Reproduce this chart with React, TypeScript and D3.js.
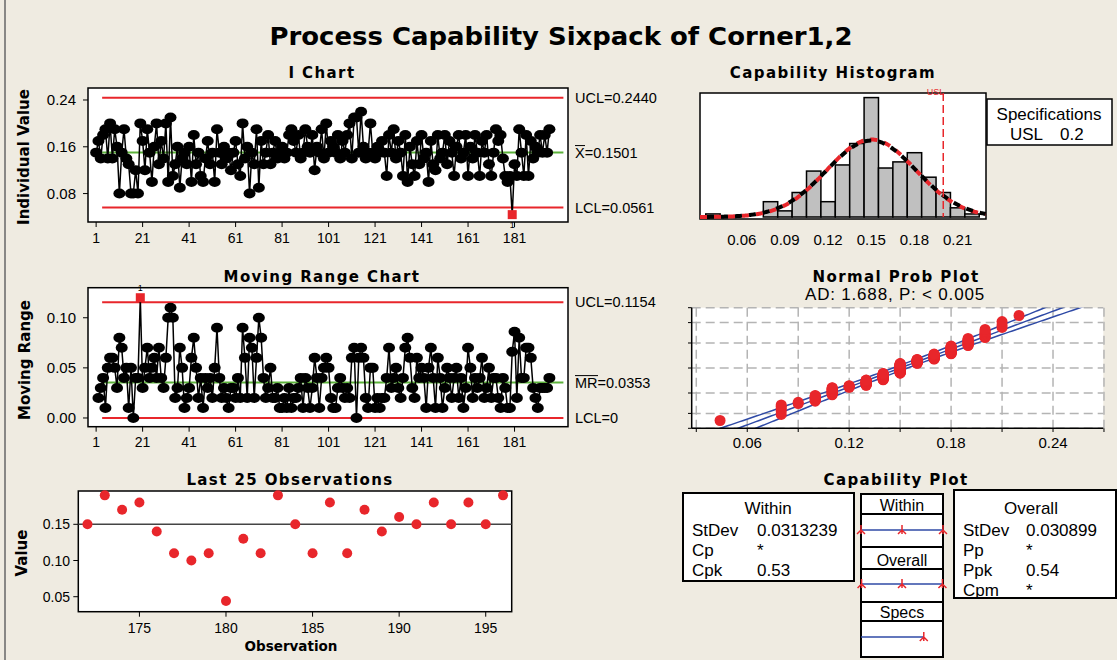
import React from "react";
import * as d3 from "d3";

const BG = "#efebe1";
const RED = "#e8262b";
const GREEN = "#5cb23a";
const BLUE = "#2f4aa6";
const SANS = "'Liberation Sans', Arial, sans-serif";
const BOLD = "'DejaVu Sans', Verdana, sans-serif";

// Corner1,2 individual measurements, observations 1..196
const corner = [
  0.15, 0.17, 0.14, 0.18, 0.19, 0.14, 0.2, 0.14, 0.19, 0.16,
  0.08, 0.15, 0.19, 0.14, 0.13, 0.08, 0.08, 0.12, 0.08, 0.2,
  0.17, 0.12, 0.19, 0.15, 0.1, 0.16, 0.2, 0.13, 0.17, 0.14,
  0.2, 0.1, 0.21, 0.11, 0.13, 0.16, 0.09, 0.14, 0.15, 0.13,
  0.16, 0.1, 0.18, 0.13, 0.15, 0.11, 0.1, 0.14, 0.17, 0.13,
  0.15, 0.1, 0.19, 0.15, 0.13, 0.16, 0.14, 0.15, 0.12, 0.15,
  0.17, 0.13, 0.11, 0.2, 0.14, 0.16, 0.08, 0.15, 0.13, 0.19,
  0.09, 0.17, 0.13, 0.15, 0.18, 0.13, 0.15, 0.17, 0.14, 0.15,
  0.16, 0.14, 0.15, 0.18, 0.19, 0.17, 0.15, 0.18, 0.14, 0.15,
  0.19, 0.16, 0.15, 0.18, 0.12, 0.16, 0.15, 0.19, 0.14, 0.2,
  0.15, 0.17, 0.16, 0.15, 0.18, 0.14, 0.17, 0.15, 0.18, 0.2,
  0.14, 0.21, 0.21, 0.15, 0.22, 0.16, 0.14, 0.15, 0.2, 0.15,
  0.14, 0.16, 0.15, 0.17, 0.15, 0.11, 0.18, 0.15, 0.19, 0.14,
  0.17, 0.15, 0.11, 0.18, 0.1, 0.16, 0.13, 0.11, 0.17, 0.13,
  0.18, 0.14, 0.15, 0.1, 0.17, 0.13, 0.12, 0.18, 0.14, 0.15,
  0.18, 0.13, 0.17, 0.15, 0.11, 0.16, 0.18, 0.14, 0.15, 0.18,
  0.11, 0.16, 0.14, 0.18, 0.15, 0.11, 0.17, 0.15, 0.18, 0.13,
  0.11,
  // last 25 (172..196)
  0.15, 0.19, 0.17, 0.18, 0.14, 0.11, 0.1, 0.11, 0.044, 0.13,
  0.11, 0.19, 0.15, 0.11, 0.18, 0.11, 0.17, 0.14, 0.16, 0.15,
  0.18, 0.15, 0.18, 0.15, 0.19,
];

const iUCL = 0.244, iMean = 0.1501, iLCL = 0.0561;
const mrUCL = 0.1154, mrMean = 0.0353, mrLCL = 0;
const usl = 0.2;
const sdWithin = 0.0313239, sdOverall = 0.030899;

const obsTicks = [1, 21, 41, 61, 81, 101, 121, 141, 161, 181];
const iTicks = [0.08, 0.16, 0.24];
const mrTicks = [0, 0.05, 0.1];
const histTicks = [0.06, 0.09, 0.12, 0.15, 0.18, 0.21];
const probTicks = [0.06, 0.12, 0.18, 0.24];
const probGridX = [0.03, 0.06, 0.09, 0.12, 0.15, 0.18, 0.21, 0.24, 0.27];
const probGridPct = [0.1, 1, 10, 50, 90, 99, 99.9];
const lastTicksX = [175, 180, 185, 190, 195];
const lastTicksY = [0.05, 0.1, 0.15];
const withinRows = [["StDev", "0.0313239"], ["Cp", "*"], ["Cpk", "0.53"]];
const overallRows = [["StDev", "0.030899"], ["Pp", "*"], ["Ppk", "0.54"], ["Cpm", "*"]];

// inverse standard normal cdf (Acklam)
function invNorm(p: number) {
  const a = [-39.69683028665376, 220.9460984245205, -275.9285104469687, 138.357751867269, -30.66479806614716, 2.506628277459239];
  const b = [-54.47609879822406, 161.5858368580409, -155.6989798598866, 66.80131188771972, -13.28068155288572];
  const c = [-0.007784894002430293, -0.3223964580411365, -2.400758277161838, -2.549671010114168, 4.374664141464968, 2.938163982698783];
  const d = [0.007784695709041462, 0.3224671290700398, 2.445134137142996, 3.754408661907416];
  const lo = 0.02425;
  if (p < lo || p > 1 - lo) {
    const q = Math.sqrt(-2 * Math.log(p < lo ? p : 1 - p));
    const z = (((((c[0] * q + c[1]) * q + c[2]) * q + c[3]) * q + c[4]) * q + c[5]) /
      ((((d[0] * q + d[1]) * q + d[2]) * q + d[3]) * q + 1);
    return p < lo ? z : -z;
  }
  const q = p - 0.5, r = q * q;
  return ((((((a[0] * r + a[1]) * r + a[2]) * r + a[3]) * r + a[4]) * r + a[5]) * q) /
    (((((b[0] * r + b[1]) * r + b[2]) * r + b[3]) * r + b[4]) * r + 1);
}

const Title = ({ x, y, children }: any) => (
  <text x={x} y={y} textAnchor="middle" fontFamily={BOLD} fontWeight="bold" fontSize={15} style={{ letterSpacing: "1.4px" }}>
    {children}
  </text>
);

const YLabel = ({ x, y, children }: any) => (
  <text transform={`translate(${x},${y}) rotate(-90)`} textAnchor="middle" dominantBaseline="central"
    fontFamily={BOLD} fontWeight="bold" fontSize={15}>
    {children}
  </text>
);

export default function App() {
  const n = corner.length;
  const pts = corner.map((v, i) => ({ n: i + 1, v }));
  const mr = pts.slice(1).map((p, i) => ({ n: p.n, v: Math.abs(p.v - corner[i]) }));
  const mean = d3.mean(corner)!;

  // I chart + MR chart scales
  const xI = d3.scaleLinear().domain([-2.5, 204]).range([88, 568]);
  const yI = d3.scaleLinear().domain([0.0314, 0.2605]).range([222, 88]);
  const yM = d3.scaleLinear().domain([-0.0087, 0.13]).range([426.7, 287.7]);
  const lineI = d3.line<{ n: number; v: number }>().x(d => xI(d.n)).y(d => yI(d.v));
  const lineM = d3.line<{ n: number; v: number }>().x(d => xI(d.n)).y(d => yM(d.v));
  const x0 = xI(1) + 6, x1 = xI(n) + 14;

  // histogram
  const xH = d3.scaleLinear().domain([0.031, 0.2297]).range([700, 986]);
  const yH = d3.scaleLinear().domain([0, 40.5]).range([217, 93]);
  const bins = d3.bin().domain([0.035, 0.225]).thresholds(d3.range(5, 23).map(k => (k - 0.5) / 100))(corner);
  const gridH = d3.range(0.031, 0.2297, 0.0005);
  const curve = (sd: number) =>
    d3.line<number>().x(x => xH(x)).y(x => yH(n * 0.01 * Math.exp(-0.5 * ((x - mean) / sd) ** 2) / (sd * Math.sqrt(2 * Math.PI))))(gridH)!;

  // normal probability plot
  const xP = d3.scaleLinear().domain([0.0273, 0.2696]).range([691.7, 1103.3]);
  const yP = d3.scaleLinear().domain([-3.09, 3.09]).range([428.3, 307.7]);
  const sorted = [...corner].sort(d3.ascending);
  const probPts = sorted.map((v, i) => ({ v, z: invNorm((i + 1 - 0.3) / (n + 0.4)) }));
  const zs = d3.range(-3.4, 3.41, 0.05);
  const band = (k: number) =>
    d3.line<number>()
      .x(z => xP(mean + sdOverall * z + k * 1.96 * sdOverall * Math.sqrt(1 / n + (z * z) / (2 * (n - 1)))))
      .y(z => yP(z))(zs)!;

  // last 25
  const last = pts.slice(n - 25);
  const xL = d3.scaleLinear().domain([171.47, 196.5]).range([78.3, 511.7]);
  const yL = d3.scaleLinear().domain([0.0293, 0.196]).range([611.7, 491]);

  // capability plot
  const xC = d3.scaleLinear().domain([mean - 3 * sdWithin, mean + 3 * sdWithin]).range([861, 943]);
  const marker = (x: number, y: number) => `M${x},${y - 5}V${y + 4}M${x - 4},${y + 4}L${x},${y}L${x + 4},${y + 4}`;

  const f2 = d3.format(".2f");

  return (
    <svg width={1117} height={660} style={{ position: "absolute", left: 0, top: 0, display: "block" }}>
      <defs>
        <clipPath id="clipH"><rect x={700} y={93} width={286} height={126} /></clipPath>
        <clipPath id="clipP"><rect x={691.7} y={307.7} width={411.6} height={120.6} /></clipPath>
        <clipPath id="clipO"><rect x={954} y={490} width={162} height={108} /></clipPath>
      </defs>
      <rect width={1117} height={660} fill={BG} />
      <line x1={5} x2={5} y1={0} y2={660} stroke="#666" strokeWidth={1.5} />

      <text x={561} y={45} textAnchor="middle" fontFamily={BOLD} fontWeight="bold" fontSize={24}
        textLength={583} lengthAdjust="spacingAndGlyphs">Process Capability Sixpack of Corner1,2</text>

      {/* ---------- I Chart ---------- */}
      <Title x={322} y={78}>I Chart</Title>
      <rect x={88} y={88} width={480} height={134} fill="#fff" stroke="#000" strokeWidth={1.5} />
      <line x1={x0} x2={x1} y1={yI(iUCL)} y2={yI(iUCL)} stroke={RED} strokeWidth={2} />
      <line x1={x0} x2={x1} y1={yI(iLCL)} y2={yI(iLCL)} stroke={RED} strokeWidth={2} />
      <line x1={x0} x2={x1} y1={yI(iMean)} y2={yI(iMean)} stroke={GREEN} strokeWidth={2} />
      <path d={lineI(pts)!} fill="none" stroke="#000" strokeWidth={1.5} />
      {pts.map(p =>
        p.v > iUCL || p.v < iLCL ? (
          <g key={p.n}>
            <rect x={xI(p.n) - 4.5} y={yI(p.v) - 4.5} width={9} height={9} fill={RED} />
            <text x={xI(p.n)} y={yI(p.v) + 13} textAnchor="middle" fontFamily={SANS} fontSize={9}>1</text>
          </g>
        ) : (
          <ellipse key={p.n} cx={xI(p.n)} cy={yI(p.v)} rx={6} ry={5} fill="#000" />
        )
      )}
      {iTicks.map(t => (
        <g key={t}>
          <line x1={83} x2={88} y1={yI(t)} y2={yI(t)} stroke="#000" />
          <text x={76} y={yI(t) + 5} textAnchor="end" fontFamily={SANS} fontSize={15}>{f2(t)}</text>
        </g>
      ))}
      {obsTicks.map(t => (
        <g key={t}>
          <line x1={xI(t)} x2={xI(t)} y1={222} y2={227} stroke="#000" />
          <text x={xI(t)} y={243} textAnchor="middle" fontFamily={SANS} fontSize={14}>{t}</text>
        </g>
      ))}
      <YLabel x={24} y={157}>Individual Value</YLabel>
      <g fontFamily={SANS} fontSize={14.5}>
        <text x={575} y={yI(iUCL) + 5}>UCL=0.2440</text>
        <text x={575} y={yI(iMean) + 5}>X=0.1501</text>
        <line x1={575} x2={585} y1={yI(iMean) - 7} y2={yI(iMean) - 7} stroke="#000" />
        <text x={575} y={yI(iLCL) + 5}>LCL=0.0561</text>
      </g>

      {/* ---------- Moving Range ---------- */}
      <Title x={322} y={282}>Moving Range Chart</Title>
      <rect x={88} y={287.7} width={480} height={139} fill="#fff" stroke="#000" strokeWidth={1.5} />
      <line x1={x0} x2={x1} y1={yM(mrUCL)} y2={yM(mrUCL)} stroke={RED} strokeWidth={2} />
      <line x1={x0} x2={x1} y1={yM(mrLCL)} y2={yM(mrLCL)} stroke={RED} strokeWidth={2} />
      <line x1={x0} x2={x1} y1={yM(mrMean)} y2={yM(mrMean)} stroke={GREEN} strokeWidth={2} />
      <path d={lineM(mr)!} fill="none" stroke="#000" strokeWidth={1.5} />
      {mr.map(p =>
        p.v > mrUCL ? (
          <g key={p.n}>
            <rect x={xI(p.n) - 4.5} y={yM(p.v) - 4.5} width={9} height={9} fill={RED} />
            <text x={xI(p.n)} y={yM(p.v) - 7} textAnchor="middle" fontFamily={SANS} fontSize={9}>1</text>
          </g>
        ) : (
          <ellipse key={p.n} cx={xI(p.n)} cy={yM(p.v)} rx={6} ry={5} fill="#000" />
        )
      )}
      {mrTicks.map(t => (
        <g key={t}>
          <line x1={83} x2={88} y1={yM(t)} y2={yM(t)} stroke="#000" />
          <text x={76} y={yM(t) + 5} textAnchor="end" fontFamily={SANS} fontSize={15}>{f2(t)}</text>
        </g>
      ))}
      {obsTicks.map(t => (
        <g key={t}>
          <line x1={xI(t)} x2={xI(t)} y1={426.7} y2={431.7} stroke="#000" />
          <text x={xI(t)} y={447} textAnchor="middle" fontFamily={SANS} fontSize={14}>{t}</text>
        </g>
      ))}
      <YLabel x={25} y={360}>Moving Range</YLabel>
      <g fontFamily={SANS} fontSize={14.5}>
        <text x={575} y={yM(mrUCL) + 5}>UCL=0.1154</text>
        <text x={575} y={yM(mrMean) + 5}>MR=0.0353</text>
        <line x1={575} x2={598} y1={yM(mrMean) - 7} y2={yM(mrMean) - 7} stroke="#000" />
        <text x={575} y={yM(mrLCL) + 5}>LCL=0</text>
      </g>

      {/* ---------- Last 25 ---------- */}
      <Title x={290} y={485}>Last 25 Observations</Title>
      <rect x={78.3} y={491} width={433.4} height={120.7} fill="#fff" stroke="#000" strokeWidth={1.5} />
      <line x1={78.3} x2={511.7} y1={yL(iMean)} y2={yL(iMean)} stroke="#444" strokeWidth={1.5} />
      {last.map(p => (
        <circle key={p.n} cx={xL(p.n)} cy={yL(p.v)} r={5} fill={RED} />
      ))}
      {lastTicksY.map(t => (
        <g key={t}>
          <line x1={73.3} x2={78.3} y1={yL(t)} y2={yL(t)} stroke="#000" />
          <text x={70} y={yL(t) + 5} textAnchor="end" fontFamily={SANS} fontSize={14}>{f2(t)}</text>
        </g>
      ))}
      {lastTicksX.map(t => (
        <g key={t}>
          <line x1={xL(t)} x2={xL(t)} y1={611.7} y2={616.7} stroke="#000" />
          <text x={xL(t)} y={633} textAnchor="middle" fontFamily={SANS} fontSize={14}>{t}</text>
        </g>
      ))}
      <YLabel x={22} y={553}>Value</YLabel>
      <text x={291} y={651} textAnchor="middle" fontFamily={BOLD} fontWeight="bold" fontSize={13.5}>Observation</text>

      {/* ---------- Capability Histogram ---------- */}
      <Title x={833} y={78}>Capability Histogram</Title>
      <rect x={700} y={93} width={286} height={126} fill="#fff" stroke="#000" strokeWidth={1.5} />
      {bins.map((b, i) => (
        <rect key={i} x={xH(b.x0!)} y={yH(b.length)} width={xH(b.x1!) - xH(b.x0!)}
          height={yH(0) - yH(b.length)} fill="#c0c0c0" stroke="#000" strokeWidth={1.5} />
      ))}
      <g clipPath="url(#clipH)">
        <path d={curve(sdOverall)} fill="none" stroke={RED} strokeWidth={4} strokeDasharray="7,7" />
        <path d={curve(sdWithin)} fill="none" stroke="#000" strokeWidth={4} strokeDasharray="7,7" strokeDashoffset={7} />
      </g>
      <line x1={xH(usl)} x2={xH(usl)} y1={93} y2={217} stroke={RED} strokeWidth={1.5} strokeDasharray="8,4" />
      <text x={xH(usl) + 1} y={95} textAnchor="end" fontFamily={SANS} fontSize={9} fill={RED}>USL</text>
      {histTicks.map(t => (
        <text key={t} x={xH(t)} y={245} textAnchor="middle" fontFamily={SANS} fontSize={15}>{f2(t)}</text>
      ))}
      <rect x={987} y={99} width={125} height={46} fill="#fff" stroke="#000" strokeWidth={1.5} />
      <text x={1049} y={120} textAnchor="middle" fontFamily={SANS} fontSize={17}>Specifications</text>
      <text x={1010} y={140} fontFamily={SANS} fontSize={17}>USL</text>
      <text x={1060} y={140} fontFamily={SANS} fontSize={17}>{usl}</text>

      {/* ---------- Normal Prob Plot ---------- */}
      <Title x={896} y={282}>Normal Prob Plot</Title>
      <text x={895} y={300} textAnchor="middle" fontFamily={SANS} fontSize={17} style={{ letterSpacing: "0.8px" }}>
        AD: 1.688, P: &lt; 0.005
      </text>
      <rect x={691.7} y={307.7} width={411.6} height={120.6} fill="#fff" />
      {probGridX.map(t => (
        <line key={t} x1={xP(t)} x2={xP(t)} y1={307.7} y2={428.3} stroke="#b4b4b4" strokeWidth={1.5} strokeDasharray="9,5" />
      ))}
      {probGridPct.map(p => (
        <line key={p} x1={691.7} x2={1103.3} y1={yP(invNorm(p / 100))} y2={yP(invNorm(p / 100))}
          stroke="#b4b4b4" strokeWidth={1.5} strokeDasharray="9,5" />
      ))}
      <g clipPath="url(#clipP)">
        {[-1, 0, 1].map(k => (
          <path key={k} d={band(k)} fill="none" stroke={BLUE} strokeWidth={1.5} />
        ))}
        {probPts.map((p, i) => (
          <circle key={i} cx={xP(p.v)} cy={yP(p.z)} r={5.5} fill={RED} />
        ))}
      </g>
      <line x1={691.7} x2={691.7} y1={307.7} y2={428.3} stroke="#000" strokeWidth={1.5} />
      <line x1={691.7} x2={1103.3} y1={428.3} y2={428.3} stroke="#000" strokeWidth={1.5} />
      {probGridPct.map(p => (
        <line key={p} x1={688} x2={691.7} y1={yP(invNorm(p / 100))} y2={yP(invNorm(p / 100))} stroke="#000" />
      ))}
      {probGridX.map(t => (
        <line key={t} x1={xP(t)} x2={xP(t)} y1={428.3} y2={432} stroke="#000" />
      ))}
      {probTicks.map(t => (
        <text key={t} x={xP(t)} y={448} textAnchor="middle" fontFamily={SANS} fontSize={15}>{f2(t)}</text>
      ))}

      {/* ---------- Capability Plot ---------- */}
      <Title x={896} y={485}>Capability Plot</Title>
      <rect x={683} y={493} width={171} height={88} fill="#fff" stroke="#000" strokeWidth={2} />
      <text x={768} y={514} textAnchor="middle" fontFamily={SANS} fontSize={17}>Within</text>
      {withinRows.map((r, i) => (
        <g key={r[0]} fontFamily={SANS} fontSize={17}>
          <text x={692} y={536 + i * 20}>{r[0]}</text>
          <text x={757} y={536 + i * 20}>{r[1]}</text>
        </g>
      ))}

      <g stroke="#000" strokeWidth={2} fill="#fff">
        <rect x={861} y={494} width={82} height={20} />
        <rect x={861} y={514} width={82} height={33} />
        <rect x={861} y={547} width={82} height={22} />
        <rect x={861} y={569} width={82} height={33} />
        <rect x={861} y={602} width={82} height={19} />
        <rect x={861} y={621} width={82} height={36} />
      </g>
      <g fontFamily={SANS} fontSize={16} textAnchor="middle">
        <text x={902} y={511}>Within</text>
        <text x={902} y={566}>Overall</text>
        <text x={902} y={618}>Specs</text>
      </g>
      <line x1={xC(mean - 3 * sdWithin)} x2={xC(mean + 3 * sdWithin)} y1={530} y2={530} stroke={BLUE} strokeWidth={1.5} />
      {[-3, 0, 3].map(k => (
        <path key={k} d={marker(xC(mean + k * sdWithin), 530)} fill="none" stroke={RED} strokeWidth={1.5} />
      ))}
      <line x1={xC(mean - 3 * sdOverall)} x2={xC(mean + 3 * sdOverall)} y1={584} y2={584} stroke={BLUE} strokeWidth={1.5} />
      {[-3, 0, 3].map(k => (
        <path key={k} d={marker(xC(mean + k * sdOverall), 584)} fill="none" stroke={RED} strokeWidth={1.5} />
      ))}
      <line x1={861} x2={xC(usl)} y1={637} y2={637} stroke={BLUE} strokeWidth={1.5} />
      <path d={marker(xC(usl), 637)} fill="none" stroke={RED} strokeWidth={1.5} />

      <rect x={954} y={490} width={162} height={108} fill="#fff" stroke="#000" strokeWidth={2} />
      <g clipPath="url(#clipO)">
        <text x={1031} y={514} textAnchor="middle" fontFamily={SANS} fontSize={17}>Overall</text>
        {overallRows.map((r, i) => (
          <g key={r[0]} fontFamily={SANS} fontSize={17}>
            <text x={963} y={536 + i * 20}>{r[0]}</text>
            <text x={1026} y={536 + i * 20}>{r[1]}</text>
          </g>
        ))}
      </g>
    </svg>
  );
}
